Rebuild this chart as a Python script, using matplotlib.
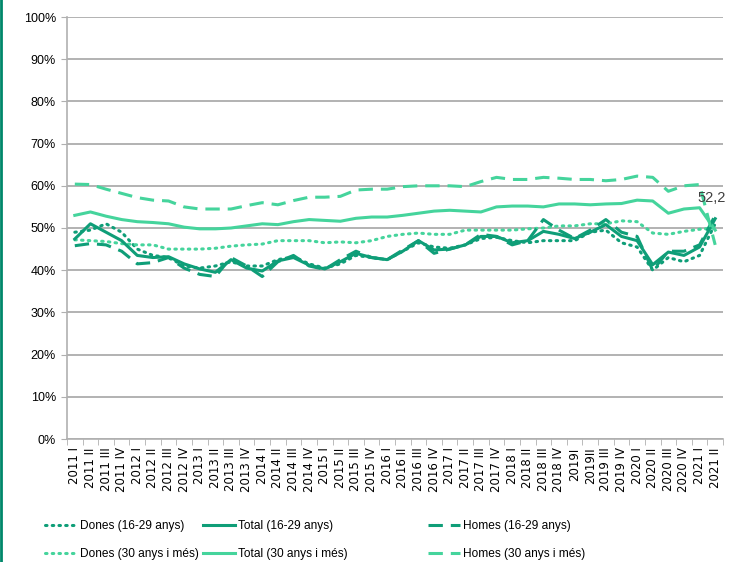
import matplotlib.pyplot as plt
import matplotlib.lines as mlines
from matplotlib.ticker import FixedLocator, PercentFormatter

# quarters 2011 I .. 2021 II
quarters = []
for year in range(2011, 2022):
    for q in ["I", "II", "III", "IV"]:
        quarters.append(f"{year} {q}")
quarters = quarters[:42]
quarters[32] = "2019I"
quarters[33] = "2019II"

dones_16_29 = [49, 49.5, 51, 49, 45, 43.5, 43, 41, 40.5, 41, 42, 41,
               41, 42.5, 43.2, 41.5, 40.5, 41.5, 43.5, 43, 42.5, 44.5, 46.5, 45.5,
               45.2, 46, 47.5, 47.8, 47, 46.5, 47, 47, 47, 49, 49.5, 46.5,
               45.5, 40, 43, 42, 43.5, 51]
total_16_29 = [47.4, 51, 49, 47, 43.5, 43, 43.2, 41.5, 40.3, 39.5, 42.5, 40.5,
               39.8, 42.2, 43, 41.2, 40.3, 42, 44, 43, 42.5, 44.5, 47, 44.8,
               45, 46, 48, 48, 46.5, 47, 49.2, 48.5, 47.5, 49, 50.8, 48,
               47, 41.3, 44.3, 43.5, 45.5, 52.2]
homes_16_29 = [45.8, 46.3, 46, 44.5, 41.5, 41.8, 43, 40.5, 39, 38.5, 43, 41,
               38.5, 42, 43.5, 41, 40.2, 42.5, 44.5, 43, 42.5, 44.8, 47, 44,
               45, 46, 48.5, 48, 46, 47, 52, 49.5, 47.5, 49.5, 52, 49,
               48, 40, 44.5, 44.5, 46, 53]
dones_30 = [47.2, 47, 46.8, 46.3, 46, 46, 45, 45, 45, 45.2, 45.7, 46,
            46.2, 47, 47, 47, 46.5, 46.7, 46.5, 47, 48, 48.5, 48.8, 48.5,
            48.5, 49.5, 49.5, 49.5, 49.5, 49.8, 50, 50.5, 50.5, 51, 51, 51.7,
            51.5, 48.8, 48.5, 49.2, 49.7, 50]
total_30 = [53, 53.8, 52.8, 52, 51.5, 51.3, 51, 50.2, 49.8, 49.8, 50, 50.5,
            51, 50.8, 51.5, 52, 51.8, 51.6, 52.3, 52.6, 52.6, 53, 53.5, 54,
            54.2, 54, 53.8, 55, 55.2, 55.2, 55, 55.7, 55.7, 55.5, 55.7, 55.8,
            56.6, 56.4, 53.5, 54.5, 54.8, 49.5]
homes_30 = [60.4, 60.3, 59.2, 58.2, 57.2, 56.6, 56.4, 55, 54.5, 54.5, 54.5, 55.3,
            56, 55.5, 56.5, 57.3, 57.3, 57.5, 59, 59.2, 59.2, 59.8, 60, 60,
            60, 59.8, 61, 62, 61.5, 61.5, 62, 61.8, 61.5, 61.5, 61.2, 61.5,
            62.3, 62, 58.7, 60, 60.3, 46]

dark = "#0f9e78"
light = "#45d49c"
x = list(range(len(quarters)))

fig = plt.figure(figsize=(7.3, 5.62), dpi=100)
ax = fig.add_axes([67 / 730, 1 - 439 / 562, 656 / 730, 422 / 562])

dot = (0, (0.5, 1.7))
dash = (0, (4.7, 2.6))
lw = 2.2
ax.plot(x, dones_16_29, color=dark, lw=lw, ls=dot, dash_capstyle="round", label="Dones (16-29 anys)")
ax.plot(x, dones_30, color=light, lw=lw, ls=dot, dash_capstyle="round", label="Dones (30 anys i més)")
ax.plot(x, total_16_29, color=dark, lw=lw, label="Total (16-29 anys)")
ax.plot(x, total_30, color=light, lw=lw, label="Total (30 anys i més)")
ax.plot(x, homes_16_29, color=dark, lw=lw, ls=dash, label="Homes (16-29 anys)")
ax.plot(x, homes_30, color=light, lw=lw, ls=dash, label="Homes (30 anys i més)")

ax.annotate("52,2", (x[-1], total_16_29[-1]), xytext=(-13, 10), textcoords="offset points",
            fontsize=10.5, color="#404040", family="Liberation Sans", va="bottom")

ax.set_ylim(0, 100)
ax.set_xlim(-0.5, len(quarters) - 0.5)
ax.set_yticks(range(0, 101, 10))
ax.yaxis.set_major_formatter(PercentFormatter(decimals=0))
ax.set_xticks(x)
ax.set_xticklabels(quarters, rotation=90, fontsize=8.5)
ax.xaxis.set_minor_locator(FixedLocator([i - 0.5 for i in range(len(quarters) + 1)]))
ax.tick_params(axis="x", which="major", length=0, pad=6)
ax.tick_params(axis="x", which="minor", length=4, color="#b0b0b0")
ax.tick_params(axis="y", length=4, color="#b0b0b0", labelsize=9, pad=4)
for t in ax.get_yticklabels():
    t.set_family("Liberation Sans")
ax.grid(axis="y", color="#a6a6a6", lw=1.2)
ax.set_axisbelow(True)
for s in ["top", "right"]:
    ax.spines[s].set_visible(False)
for s in ["left", "bottom"]:
    ax.spines[s].set_color("#b0b0b0")
    ax.spines[s].set_linewidth(1.2)

# legend: three columns placed like the original
handles, labels = ax.get_legend_handles_labels()
col_x = [45, 203, 428]
for c in range(3):
    fig.legend(handles[2 * c:2 * c + 2], labels[2 * c:2 * c + 2],
               loc="upper left", bbox_to_anchor=(col_x[c] / 730, 1 - 520 / 562),
               frameon=False, prop={"family": "Liberation Sans", "size": 8.6},
               handlelength=2.7, handletextpad=0.2, labelspacing=1.35,
               borderpad=0, borderaxespad=0)

# thin border strip on the left edge
fig.add_artist(mlines.Line2D([0.001, 0.001], [0, 1], color="#00876a", lw=2, transform=fig.transFigure))

fig.savefig("out.png", dpi=100)
